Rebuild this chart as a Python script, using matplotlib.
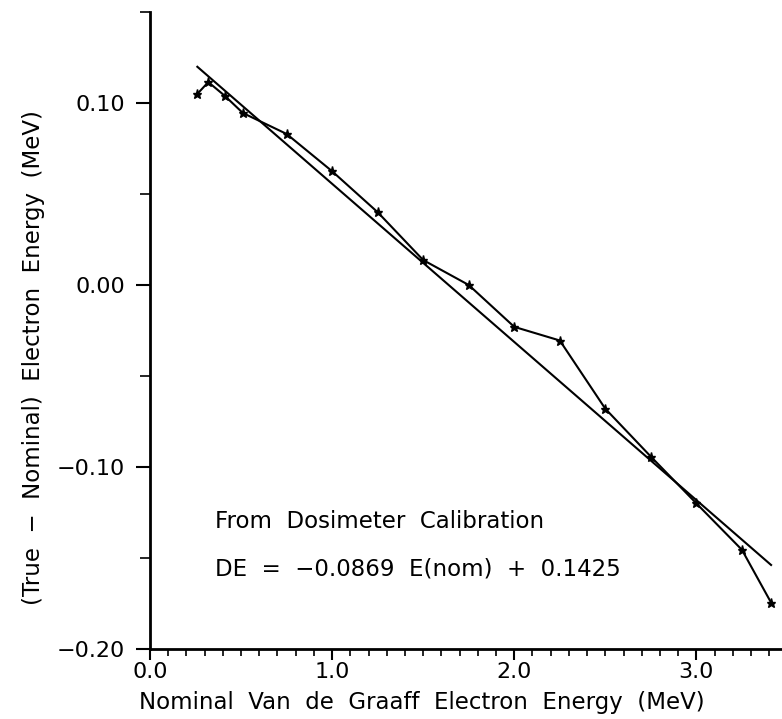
import numpy as np
import matplotlib
matplotlib.use("Agg")
import matplotlib.pyplot as plt
from matplotlib.ticker import MultipleLocator, FixedFormatter, FixedLocator

# nominal energy (MeV) and measured (true - nominal) offset (MeV)
e_nom = [0.26, 0.32, 0.41, 0.51, 0.75, 1.00, 1.25, 1.50, 1.75,
         2.00, 2.25, 2.50, 2.75, 3.00, 3.25, 3.41]
d_e = [0.105, 0.1115, 0.104, 0.0945, 0.083, 0.0625, 0.040, 0.0137, 0.000,
       -0.023, -0.0305, -0.068, -0.0943, -0.120, -0.1455, -0.1745]

# linear fit from the annotation
slope = -0.0869
intercept = 0.1425

x_ticks = [0.0, 1.0, 2.0, 3.0]
x_ticklabels = ["0.0", "1.0", "2.0", "3.0"]
y_ticks = [-0.20, -0.10, 0.00, 0.10]
y_ticklabels = ["\u22120.20", "\u22120.10", "0.00", "0.10"]

fig = plt.figure(figsize=(7.82, 7.19), dpi=100)
ax = fig.add_axes([150 / 782, 1 - 649 / 719, 1 - 150 / 782, (649 - 12) / 719])

fit_x = np.array([e_nom[0], e_nom[-1]])
ax.plot(fit_x, slope * fit_x + intercept, color="black", lw=1.5)
ax.plot(e_nom, d_e, color="black", lw=1.5, marker="*", markersize=6.5)

ax.set_xlim(0.0, 3.47)
ax.set_ylim(-0.20, 0.15)

for side in ["top", "right"]:
    ax.spines[side].set_visible(False)
ax.spines["left"].set_linewidth(2)
ax.spines["bottom"].set_linewidth(2)

ax.xaxis.set_major_locator(FixedLocator(x_ticks))
ax.xaxis.set_major_formatter(FixedFormatter(x_ticklabels))
ax.xaxis.set_minor_locator(MultipleLocator(0.1))
ax.yaxis.set_major_locator(FixedLocator(y_ticks))
ax.yaxis.set_major_formatter(FixedFormatter(y_ticklabels))
ax.yaxis.set_minor_locator(MultipleLocator(0.05))

ax.tick_params(axis="x", which="major", direction="out", length=8, width=1.5,
               labelsize=16, pad=1)
ax.tick_params(axis="x", which="minor", direction="out", length=5, width=1.2)
ax.tick_params(axis="y", which="major", direction="out", length=10, width=1.5,
               labelsize=16, pad=8)
ax.tick_params(axis="y", which="minor", direction="out", length=7, width=1.2)

ax.text(0.355, -0.130, "From  Dosimeter  Calibration", fontsize=16.5,
        va="center", ha="left")
ax.text(0.355, -0.156, "DE  =  \u22120.0869  E(nom)  +  0.1425", fontsize=16.5,
        va="center", ha="left")

fig.text(422 / 782, 1 - 702 / 719, "Nominal  Van  de  Graaff  Electron  Energy  (MeV)",
         fontsize=16.5, ha="center", va="center")
fig.text(34 / 782, 1 - 358 / 719, "(True  \u2212  Nominal)  Electron  Energy  (MeV)",
         fontsize=16.5, ha="center", va="center", rotation=90)

fig.savefig("out.png", dpi=100)
